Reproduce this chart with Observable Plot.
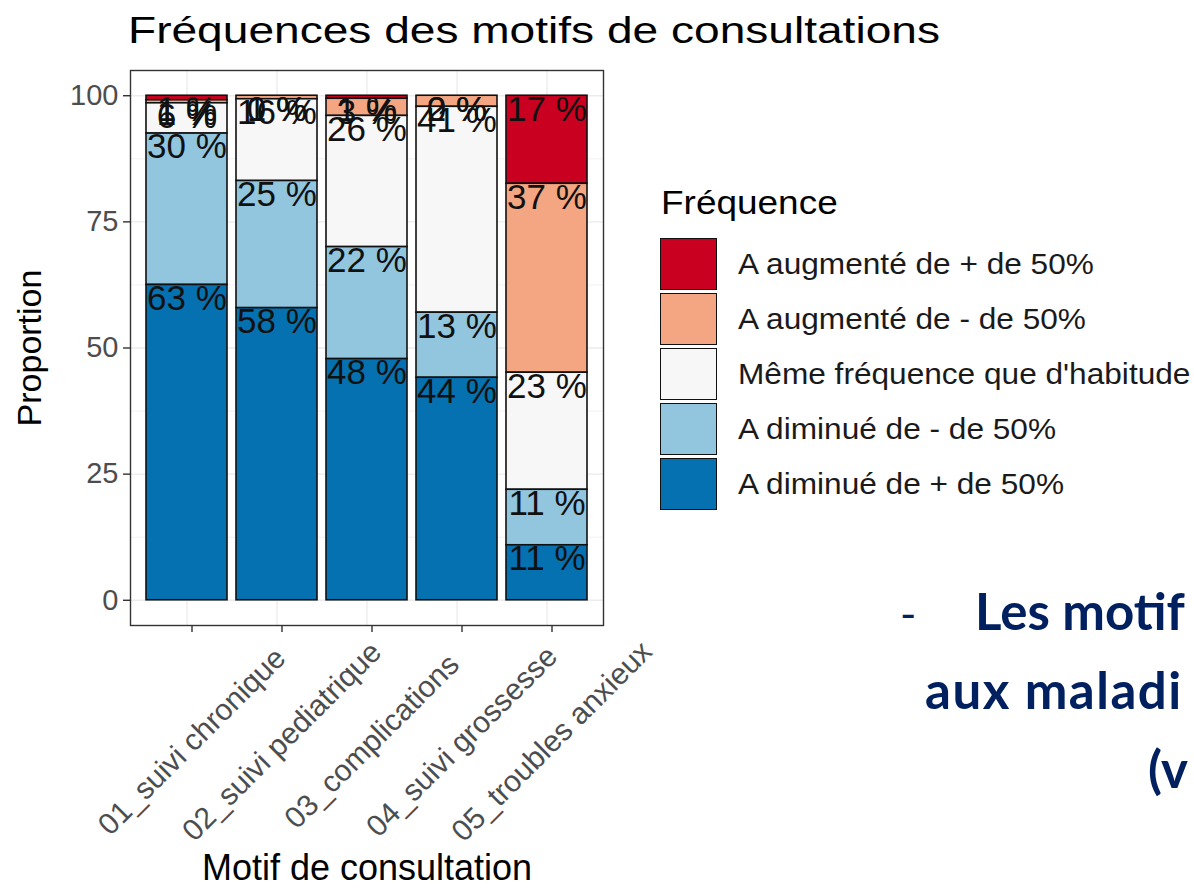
<!DOCTYPE html>
<html>
<head>
<meta charset="utf-8">
<script src="https://cdn.jsdelivr.net/npm/d3@7"></script>
<script src="https://cdn.jsdelivr.net/npm/@observablehq/plot@0.6"></script>
<style>
  html, body { margin: 0; padding: 0; background: #ffffff; overflow: hidden; }
  #wrap { position: relative; width: 1194px; height: 891px; overflow: hidden; font-family: "Liberation Sans", Arial, sans-serif; }
  #plot { position: absolute; left: 0; top: 0; }
  #title { position: absolute; left: 128px; top: 13px; font-size: 36px; line-height: 36px; color: #000; white-space: nowrap; transform: scaleX(1.28); transform-origin: left center; }
  #legend-title { position: absolute; left: 661px; top: 185px; font-size: 33px; line-height: 36px; color: #000; white-space: nowrap; transform: scaleX(1.12); transform-origin: left center; }
  .key { position: absolute; left: 660px; width: 55px; height: 50px; border: 1.5px solid #111; }
  .klab { position: absolute; left: 738px; font-size: 29px; line-height: 52px; color: #1a1a1a; white-space: nowrap; transform: scaleX(1.09); transform-origin: left center; }
  .slide { position: absolute; font-family: Lato, "Open Sans", sans-serif; font-weight: 700; color: #002060; font-size: 51px; line-height: 56px; white-space: nowrap; }
  .dash { position: absolute; font-family: Lato, "Open Sans", sans-serif; font-weight: 400; color: #002060; font-size: 44px; line-height: 56px; }
</style>
</head>
<body>
<div id="wrap">
  <div id="plot"></div>
  <div id="title"></div>
  <div id="legend-title"></div>
  <div id="legend"></div>
  <div class="dash" style="left:900px; top:585px;">-</div>
  <div class="slide" style="left:975px; top:583px;">Les motif</div>
  <div class="slide" style="left:925px; top:662px; letter-spacing:1.5px;">aux maladi</div>
  <div class="slide" style="left:1148px; top:741px;">(v</div>
</div>
<script>
// ---- Data ----
const titleText = "Fréquences des motifs de consultations";
const xAxisTitle = "Motif de consultation";
const yAxisTitle = "Proportion";
const legendTitle = "Fréquence";

const categories = [
  "01_suivi chronique",
  "02_suivi pediatrique",
  "03_complications",
  "04_suivi grossesse",
  "05_troubles anxieux"
];

// legend order (top to bottom)
const levels = [
  "A augmenté de + de 50%",
  "A augmenté de - de 50%",
  "Même fréquence que d'habitude",
  "A diminué de - de 50%",
  "A diminué de + de 50%"
];
const colors = ["#CA0020", "#F4A582", "#F7F7F7", "#92C5DE", "#0571B0"];

// percentages per category, one array per level
const augmentePlus  = [0.9, 0,    0.6,  0,    17.45];
const augmenteMoins = [0.6, 0.7,  3.4,  2.2,  37.45];
const memeFrequence = [6.0, 16.2, 26.0, 40.8, 23.2];
const diminueMoins  = [30.0, 25.2, 22.2, 12.9, 11.0];
const diminuePlus   = [62.5, 57.9, 47.8, 44.1, 10.9];

const yTicks = [0, 25, 50, 75, 100];
const yMinor = [12.5, 37.5, 62.5, 87.5];

// ---- Build table ----
const seriesByLevel = [augmentePlus, augmenteMoins, memeFrequence, diminueMoins, diminuePlus];
const rows = [];
categories.forEach((c, j) => {
  levels.forEach((l, i) => rows.push({motif: c, frequence: l, value: seriesByLevel[i][j]}));
});
const stackOrder = levels.slice().reverse(); // bottom to top

const chart = Plot.plot({
  width: 1194,
  height: 891,
  marginLeft: 130,
  marginRight: 591,
  marginTop: 70,
  marginBottom: 266,
  style: {fontFamily: "Liberation Sans, Arial, sans-serif", background: "transparent", overflow: "visible"},
  x: {domain: categories, paddingInner: 0.1, paddingOuter: 0.15, label: null},
  y: {domain: [-5, 105], label: null},
  color: {domain: levels, range: colors},
  marks: [
    Plot.gridY(yMinor, {stroke: "#EBEBEB", strokeOpacity: 1, strokeWidth: 0.7}),
    Plot.gridY(yTicks, {stroke: "#EBEBEB", strokeOpacity: 1, strokeWidth: 1.3}),
    Plot.gridX({stroke: "#EBEBEB", strokeOpacity: 1, strokeWidth: 1.3}),
    Plot.barY(rows, {x: "motif", y: "value", fill: "frequence", order: stackOrder, stroke: "#111", strokeWidth: 1.6}),
    Plot.text(rows, Plot.stackY2({
      x: "motif", y: "value", z: "frequence", order: stackOrder,
      text: d => Math.round(d.value) + " %",
      lineAnchor: "top", fontSize: 35, fill: "#111", dy: 0
    })),
    Plot.frame({stroke: "#333333", strokeWidth: 1.4}),
    Plot.axisY(yTicks, {tickSize: 7, tickPadding: 5, fontSize: 29, fill: "#4D4D4D", stroke: "#333333", strokeWidth: 1.4, label: null}),
    Plot.axisX({tickSize: 7, tickRotate: -45, textAnchor: "middle", lineAnchor: "middle", tickPadding: 109, dx: 5,
      fontSize: 30, fill: "#4D4D4D", stroke: "#333333", strokeWidth: 1.4, label: null}),
    Plot.text([xAxisTitle], {frameAnchor: "bottom", textAnchor: "middle", text: d => d, dy: 254, lineAnchor: "bottom", fontSize: 36, fill: "#000"}),
    Plot.text([yAxisTitle], {frameAnchor: "left", textAnchor: "middle", text: d => d, dx: -100, rotate: -90, fontSize: 34, fill: "#000"})
  ]
});
document.getElementById("plot").appendChild(chart);

document.getElementById("title").textContent = titleText;
document.getElementById("legend-title").textContent = legendTitle;

const legend = document.getElementById("legend");
levels.forEach((l, i) => {
  const top = 238 + i * 55;
  const k = document.createElement("div");
  k.className = "key";
  k.style.top = top + "px";
  k.style.background = colors[i];
  legend.appendChild(k);
  const t = document.createElement("div");
  t.className = "klab";
  t.style.top = top + "px";
  t.textContent = l;
  legend.appendChild(t);
});
</script>
</body>
</html>
